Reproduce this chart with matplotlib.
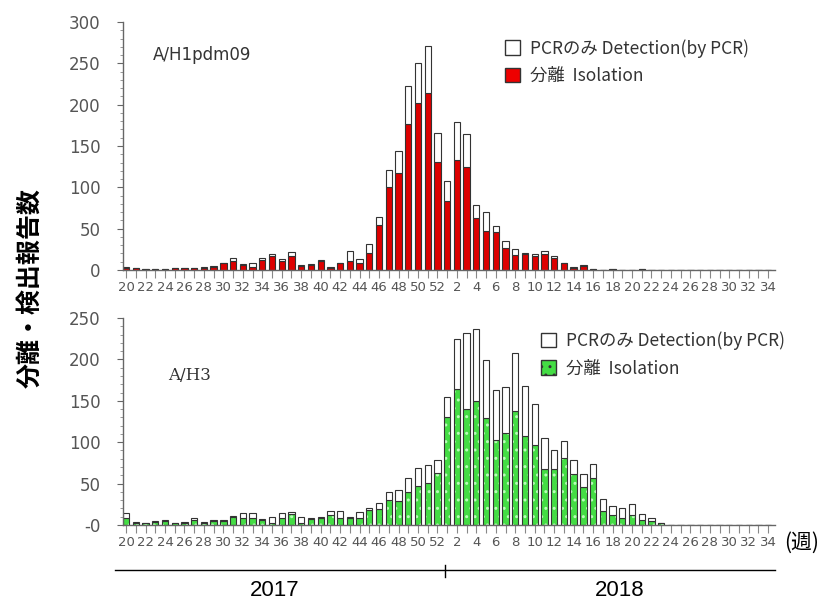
import numpy as np
import matplotlib.pyplot as plt
from matplotlib.patches import Patch
from matplotlib.ticker import MultipleLocator, FixedLocator, FixedFormatter

plt.rcParams['font.family'] = ['DejaVu Sans', 'Noto Sans CJK JP']
JP = ['Noto Sans CJK JP', 'DejaVu Sans']

# week numbers: 2017 wk20-52, then 2018 wk1-34
weeks_2017 = list(range(20, 53))
weeks_2018 = list(range(1, 35))
week_labels = [str(w) for w in weeks_2017 + weeks_2018]

# A/H1pdm09 (total = isolation + PCR only)
h1_total = [4, 2, 1, 1, 1, 3, 2, 3, 4, 5, 9, 14, 7, 8, 15, 19, 13, 22, 6, 7,
            12, 4, 9, 23, 13, 31, 64, 121, 144, 222, 251, 271, 166,
            108, 179, 164, 79, 70, 53, 35, 26, 21, 19, 23, 17, 9, 4, 6, 1, 0,
            1, 0, 0, 1, 0, 0, 0, 0, 0, 0, 0, 0, 0, 0, 0, 0, 0]
h1_isolation = [3, 2, 1, 1, 1, 2, 2, 3, 3, 4, 8, 11, 6, 4, 12, 17, 11, 17, 5, 6,
                11, 3, 8, 11, 9, 21, 54, 100, 117, 177, 202, 214, 131,
                84, 133, 125, 63, 47, 46, 27, 18, 19, 17, 19, 15, 8, 3, 5, 1, 0,
                1, 0, 0, 1, 0, 0, 0, 0, 0, 0, 0, 0, 0, 0, 0, 0, 0]

# A/H3
h3_total = [15, 4, 3, 5, 6, 2, 4, 9, 4, 6, 6, 11, 15, 15, 7, 10, 15, 16, 10, 9,
            10, 17, 17, 10, 16, 20, 27, 40, 42, 57, 69, 72, 79,
            154, 225, 232, 237, 199, 163, 167, 208, 168, 146, 105, 91, 102, 79, 62, 74, 32,
            23, 21, 25, 13, 8, 2, 0, 0, 0, 0, 0, 0, 0, 0, 0, 0, 0]
h3_isolation = [9, 3, 2, 4, 5, 2, 3, 6, 3, 5, 5, 10, 8, 8, 6, 3, 9, 13, 3, 7,
                8, 12, 8, 9, 8, 18, 19, 30, 29, 40, 47, 51, 63,
                130, 164, 140, 150, 129, 103, 111, 138, 107, 97, 68, 68, 81, 62, 46, 57, 17,
                12, 9, 12, 6, 5, 2, 0, 0, 0, 0, 0, 0, 0, 0, 0, 0, 0]

x = np.arange(len(week_labels))
W, H = 827, 603
fig = plt.figure(figsize=(W / 100, H / 100), dpi=100)

def px_axes(left, top, right, bottom):
    return fig.add_axes([left / W, 1 - bottom / H, (right - left) / W, (bottom - top) / H])

ax1 = px_axes(122.5, 22, 775, 270)
ax2 = px_axes(122.5, 318, 775, 525)

edge = '#333333'
bw = 0.65

def style(ax, ymax, zero_label):
    ax.set_xlim(-0.37, len(x) - 0.3)
    ax.set_ylim(0, ymax)
    for s in ['top', 'right']:
        ax.spines[s].set_visible(False)
    for s in ['left', 'bottom']:
        ax.spines[s].set_color('#666666')
        ax.spines[s].set_linewidth(1.0)
    ax.set_xticks(x)
    ax.set_xticklabels([l if i % 2 == 0 else '' for i, l in enumerate(week_labels)])
    ax.tick_params(axis='x', length=6, width=0.8, color='#888888', pad=2,
                   labelsize=9.5, labelcolor='#555555')
    ticks = list(range(0, ymax + 1, 50))
    ax.yaxis.set_major_locator(FixedLocator(ticks))
    labels = [str(t) for t in ticks]
    labels[0] = zero_label
    ax.yaxis.set_major_formatter(FixedFormatter(labels))
    ax.yaxis.set_minor_locator(MultipleLocator(10))
    ax.tick_params(axis='y', which='major', length=4, width=0.8, color='#666666',
                   pad=12, labelsize=12, labelcolor='#555555')
    ax.tick_params(axis='y', which='minor', length=2, width=0.6, color='#888888')

legend_kw = dict(loc='upper left', frameon=False, handlelength=0.9, handleheight=0.9,
                 handletextpad=0.55, labelspacing=0.55, labelcolor='#333333',
                 borderaxespad=0, prop={'family': JP, 'size': 12.5})

# top panel: A/H1pdm09
h1_det = np.array(h1_total) - np.array(h1_isolation)
ax1.bar(x, h1_isolation, width=bw, color='#dd0000', edgecolor=edge, linewidth=0.8)
ax1.bar(x, h1_det, bottom=h1_isolation, width=bw, color='white', edgecolor=edge, linewidth=0.8)
style(ax1, 300, '0')
ax1.text(0.046, 0.845, 'A/H1pdm09', transform=ax1.transAxes, fontsize=12,
         color='#333333', family='DejaVu Sans')
ax1.legend(handles=[Patch(facecolor='white', edgecolor=edge, label='PCRのみ Detection(by PCR)'),
                    Patch(facecolor='#ee0000', edgecolor=edge, label='分離  Isolation')],
           bbox_to_anchor=(0.575, 0.96), **legend_kw)

# bottom panel: A/H3
h3_det = np.array(h3_total) - np.array(h3_isolation)
ax2.bar(x, h3_isolation, width=bw, color='#44dd44', edgecolor='#b8ffb8', linewidth=0, hatch='..')
ax2.bar(x, h3_isolation, width=bw, fill=False, edgecolor=edge, linewidth=0.8)
ax2.bar(x, h3_det, bottom=h3_isolation, width=bw, color='white', edgecolor=edge, linewidth=0.8)
style(ax2, 250, '-0')
ax2.text(0.07, 0.7, 'A/H3', transform=ax2.transAxes, fontsize=12,
         color='#333333', family='DejaVu Serif')
ax2.legend(handles=[Patch(facecolor='white', edgecolor=edge, label='PCRのみ Detection(by PCR)'),
                    Patch(facecolor='#44dd44', edgecolor=edge, hatch='..', label='分離  Isolation')],
           bbox_to_anchor=(0.63, 0.97), **legend_kw)

# shared labels
fig.text(30 / W, 1 - 288 / H, '分離・検出報告数', rotation=90, ha='center', va='center',
         fontsize=18, fontweight='bold', family=JP)
fig.text(784 / W, 1 - 543 / H, '(週)', ha='left', va='center', fontsize=15, family=JP)

fig.add_artist(plt.Line2D([115 / W, 775 / W], [1 - 570 / H, 1 - 570 / H],
                          transform=fig.transFigure, color='black', linewidth=1))
fig.add_artist(plt.Line2D([445 / W, 445 / W], [1 - 565 / H, 1 - 577 / H],
                          transform=fig.transFigure, color='black', linewidth=1))
fig.text(275 / W, 1 - 591 / H, '2017', ha='center', va='center', fontsize=16,
         family='Liberation Sans')
fig.text(620 / W, 1 - 591 / H, '2018', ha='center', va='center', fontsize=16,
         family='Liberation Sans')

fig.savefig('out.png', dpi=100)
